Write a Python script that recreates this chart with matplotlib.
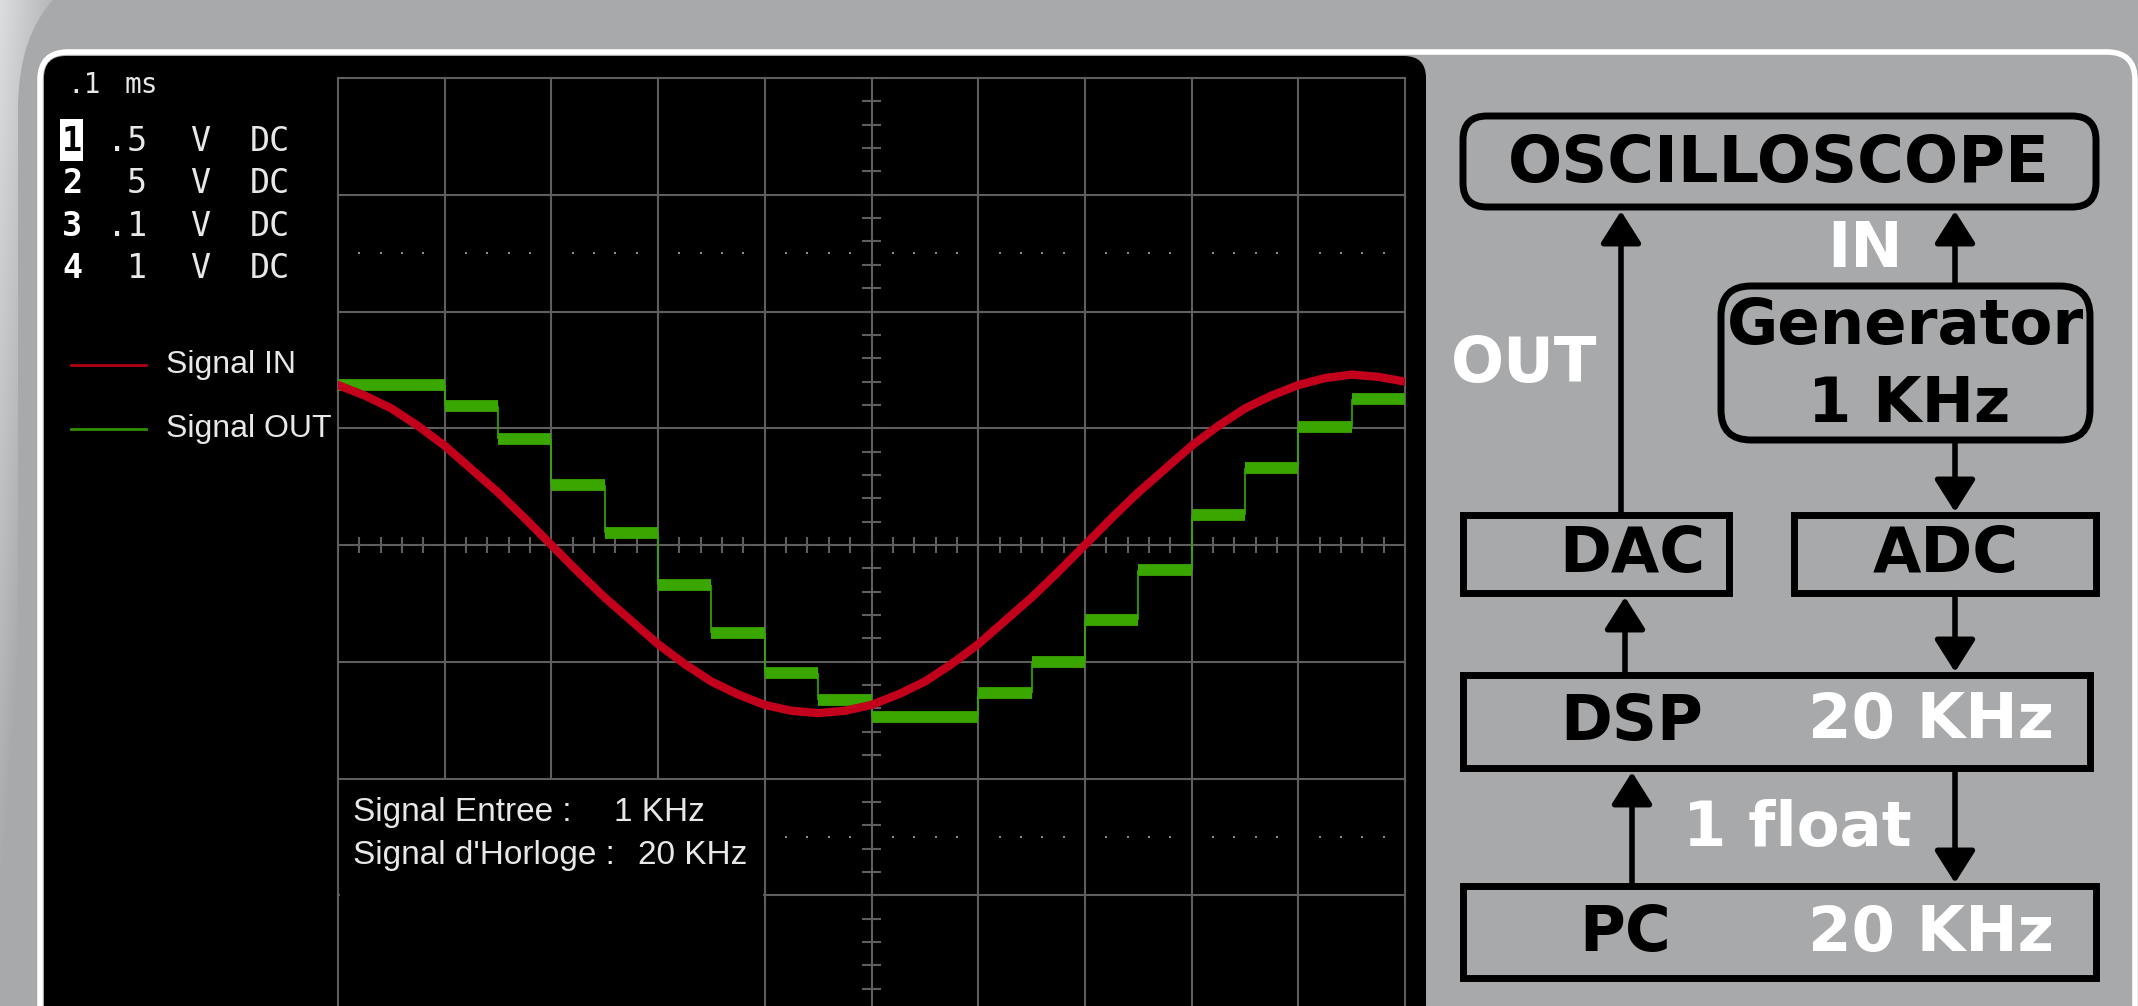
import matplotlib
matplotlib.use("Agg")
import matplotlib.pyplot as plt
import numpy as np
from matplotlib.patches import FancyBboxPatch, Rectangle

# scope traces: time in ms (0.1 ms / div), amplitude in divisions
red_t = [0.0, 0.025, 0.05, 0.075, 0.1, 0.125, 0.15, 0.175, 0.2, 0.225,
         0.25, 0.275, 0.3, 0.325, 0.35, 0.375, 0.4, 0.425, 0.45, 0.475,
         0.5, 0.525, 0.55, 0.575, 0.6, 0.625, 0.65, 0.675, 0.7, 0.725,
         0.75, 0.775, 0.8, 0.825, 0.85, 0.875, 0.9, 0.925, 0.95, 0.975, 1.0]
red_v = [1.37, 1.28, 1.17, 1.02, 0.85, 0.65, 0.45, 0.23, 0.0, -0.23,
         -0.45, -0.65, -0.85, -1.02, -1.17, -1.28, -1.37, -1.42, -1.44, -1.42,
         -1.37, -1.28, -1.17, -1.02, -0.85, -0.65, -0.45, -0.23, 0.0, 0.23,
         0.45, 0.65, 0.85, 1.02, 1.17, 1.28, 1.37, 1.43, 1.46, 1.44, 1.40]

green_t = [0.0, 0.10, 0.15, 0.20, 0.25, 0.30, 0.35, 0.40, 0.45, 0.50,
           0.60, 0.65, 0.70, 0.75, 0.80, 0.85, 0.90, 0.95, 1.00]
green_v = [1.37, 1.19, 0.91, 0.51, 0.10, -0.34, -0.75, -1.10, -1.33, -1.47,
           -1.27, -1.00, -0.64, -0.21, 0.26, 0.66, 1.01, 1.25]

timebase = ".1"
channels = ["1", "2", "3", "4"]
ch_scale = [".5", "5", ".1", "1"]
ch_unit = ["V", "V", "V", "V"]
ch_coupling = ["DC", "DC", "DC", "DC"]
legend_labels = ["Signal IN", "Signal OUT"]
info_labels = ["Signal Entree :", "Signal d'Horloge :"]
info_values = ["1 KHz", "20 KHz"]

RED = "#c2001b"
GREEN = "#3aa600"
GRID = "#5e5e5e"
TXT = "#e8e8e8"
GRAY = "#a8a9ab"

fig = plt.figure(figsize=(21.38, 10.06), dpi=100)
fig.patch.set_facecolor(GRAY)

# background layer in pixel coords
bg = fig.add_axes([0, 0, 1, 1])
bg.set_xlim(0, 2138)
bg.set_ylim(1006, 0)
bg.axis("off")

gx, gy = np.meshgrid(np.linspace(0, 240, 120), np.linspace(0, 1006, 300))
f = np.clip(1 - gx / 70 - gy / 900, 0, 1)[..., None]
light = np.array([220, 221, 223]) / 255
gray = np.array([168, 169, 171]) / 255
bg.imshow(gray + f * (light - gray), extent=[0, 240, 1006, 0], aspect="auto", zorder=0)
bg.add_patch(FancyBboxPatch((18, -40), 3000, 3000, boxstyle="round,pad=0,rounding_size=150",
                            fc=GRAY, ec="none", zorder=1))
bg.add_patch(FancyBboxPatch((40, 52), 2095, 1100, boxstyle="round,pad=0,rounding_size=28",
                            fc=GRAY, ec="white", lw=4, zorder=2))
bg.add_patch(FancyBboxPatch((44, 56), 1382, 1100, boxstyle="round,pad=0,rounding_size=22",
                            fc="black", ec="none", zorder=3))

# left info panel
mono = "DejaVu Sans Mono"
bg.text(101, 93, timebase, color=TXT, family=mono, fontsize=20, ha="right", va="baseline", zorder=5)
bg.text(124, 93, "ms", color=TXT, family=mono, fontsize=20, ha="left", va="baseline", zorder=5)
bases = [151, 193, 236, 278]
for i, ch in enumerate(channels):
    b = bases[i]
    if i == 0:
        bg.add_patch(Rectangle((60, 119), 23, 42, fc="white", ec="none", zorder=4))
        bg.text(72, b, ch, color="black", family=mono, fontweight="bold", fontsize=24,
                ha="center", va="baseline", zorder=5)
    else:
        bg.text(72, b, ch, color="white", family=mono, fontweight="bold", fontsize=24,
                ha="center", va="baseline", zorder=5)
    bg.text(147, b, ch_scale[i], color=TXT, family=mono, fontsize=24, ha="right", va="baseline", zorder=5)
    bg.text(200, b, ch_unit[i], color=TXT, family=mono, fontsize=24, ha="center", va="baseline", zorder=5)
    bg.text(250, b, ch_coupling[i], color=TXT, family=mono, fontsize=24, ha="left", va="baseline", zorder=5)

leg_y = [365, 429]
leg_c = ["#b00012", "#2f8f00"]
for i, lab in enumerate(legend_labels):
    bg.plot([71, 146], [leg_y[i], leg_y[i]], color=leg_c[i], lw=2, zorder=5)
    bg.text(166, leg_y[i], lab, color=TXT, family="Liberation Sans", fontsize=23,
            ha="left", va="center", zorder=5)

# block diagram
def box(x0, y0, x1, y1, r=0):
    if r:
        p = FancyBboxPatch((x0, y0), x1 - x0, y1 - y0, boxstyle=f"round,pad=0,rounding_size={r}",
                           fc="none", ec="black", lw=5, zorder=4)
    else:
        p = Rectangle((x0, y0), x1 - x0, y1 - y0, fc="none", ec="black", lw=5, zorder=4)
    bg.add_patch(p)

def arrow(x, y0, y1):
    bg.annotate("", xy=(x, y1), xytext=(x, y0), zorder=4,
                arrowprops=dict(arrowstyle="-|>,head_length=0.6,head_width=0.38",
                                mutation_scale=33, lw=4, color="black",
                                shrinkA=0, shrinkB=0))

box(1463, 116, 2096, 207, r=24)
box(1721, 286, 2090, 440, r=30)
box(1463, 515, 1729, 593)
box(1794, 515, 2096, 593)
box(1463, 675, 2090, 768)
box(1463, 886, 2096, 978)

arrow(1621, 515, 211)
arrow(1955, 286, 211)
arrow(1955, 440, 512)
arrow(1625, 675, 597)
arrow(1955, 593, 672)
arrow(1632, 886, 772)
arrow(1955, 768, 883)

def label(x, y, s, c="black", size=45):
    bg.text(x, y, s, color=c, fontsize=size, fontweight="bold", family="DejaVu Sans",
            ha="center", va="center", zorder=5)

label(1779, 164, "OSCILLOSCOPE", size=46)
label(1865, 250, "IN", c="white")
label(1524, 365, "OUT", c="white")
label(1906, 327, "Generator")
label(1909, 405, "1 KHz")
label(1632, 555, "DAC")
label(1946, 555, "ADC")
label(1632, 723, "DSP")
label(1931, 721, "20 KHz", c="white")
label(1797, 829, "1 float", c="white")
label(1625, 934, "PC")
label(1931, 934, "20 KHz", c="white")

# scope screen
ax = fig.add_axes([338 / 2138, 1 - 1012 / 1006, 1067 / 2138, 934 / 1006])
ax.set_facecolor("none")
ax.set_xlim(0, 1.0)
ax.set_ylim(-4, 4)
for s in ax.spines.values():
    s.set_visible(False)
ax.set_xticks([])
ax.set_yticks([])

for t in np.arange(0, 1.001, 0.1):
    ax.axvline(t, color=GRID, lw=1.5, zorder=1, clip_on=False)
for v in range(-4, 5):
    ax.axhline(v, color=GRID, lw=1.5, zorder=1, clip_on=False)

minor_t = np.round(np.arange(0.02, 1.0, 0.02), 3)
ax.vlines(minor_t, -0.07, 0.07, color=GRID, lw=1.5, zorder=1)
minor_v = np.round(np.arange(-4, 4.001, 0.2), 3)
ax.hlines(minor_v, 0.5 - 0.009, 0.5 + 0.009, color=GRID, lw=1.5, zorder=1)

dots = np.array([t for t in minor_t if abs(t * 10 - round(t * 10)) > 1e-6])
ax.plot(dots, np.full(len(dots), 2.5), ls="none", marker="s", ms=1.6, mew=0, color="#8a8a8a", zorder=1)
low = dots[dots > 0.4]
ax.plot(low, np.full(len(low), -2.5), ls="none", marker="s", ms=1.6, mew=0, color="#8a8a8a", zorder=1)

ax.add_patch(Rectangle((0.0015, -4.5), 0.397, 2.488, fc="black", ec="none", zorder=2))
ax.text(0.014, -2.36, info_labels[0], color=TXT, family="Liberation Sans", fontsize=24,
        ha="left", va="baseline", zorder=3)
ax.text(0.259, -2.36, info_values[0], color=TXT, family="Liberation Sans", fontsize=24,
        ha="left", va="baseline", zorder=3)
ax.text(0.014, -2.73, info_labels[1], color=TXT, family="Liberation Sans", fontsize=24,
        ha="left", va="baseline", zorder=3)
ax.text(0.281, -2.73, info_values[1], color=TXT, family="Liberation Sans", fontsize=24,
        ha="left", va="baseline", zorder=3)

ax.hlines(green_v, green_t[:-1], green_t[1:], color=GREEN, lw=8.5, capstyle="butt", zorder=4)
ax.vlines(green_t[1:-1], green_v[:-1], green_v[1:], color=GREEN, lw=1.2, zorder=4)
ax.plot(red_t, red_v, color=RED, lw=6, solid_joinstyle="round", zorder=5)

fig.savefig("out.png", dpi=100, facecolor=fig.get_facecolor())
